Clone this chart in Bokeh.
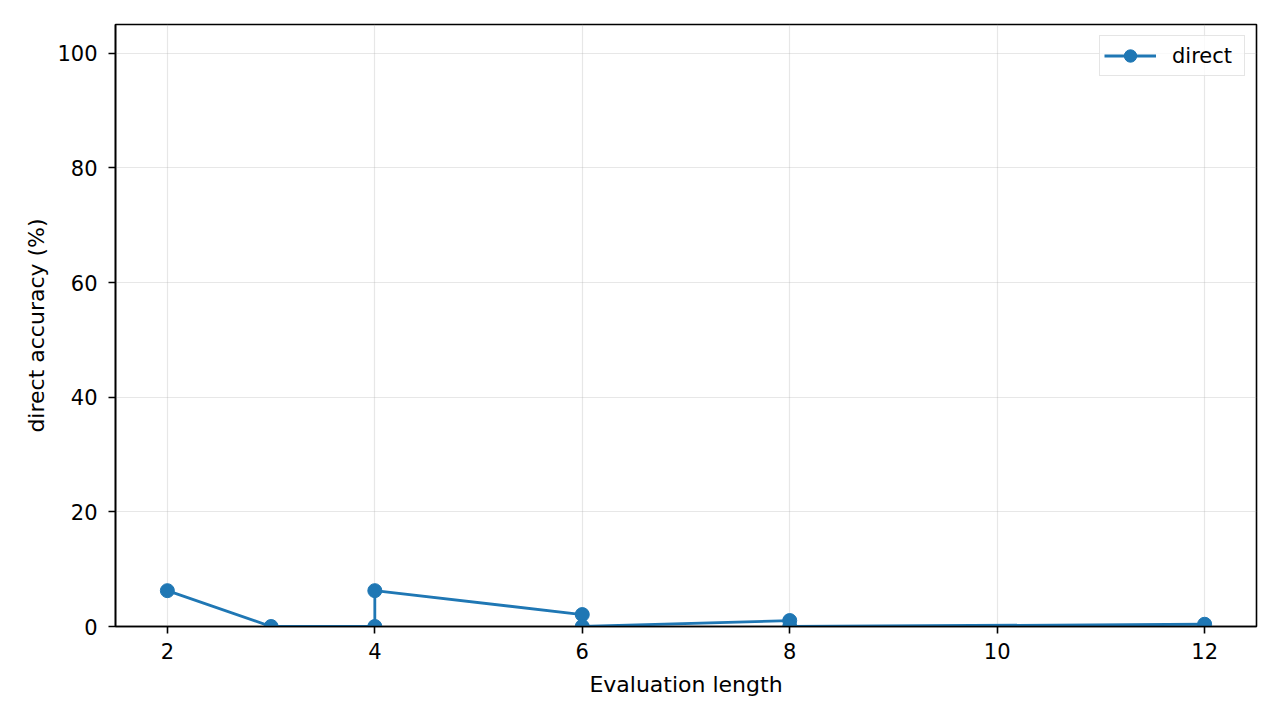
from bokeh.plotting import figure
from bokeh.models import FixedTicker, Range1d, Legend, LegendItem
from bokeh.embed import file_html
from bokeh.resources import INLINE

# Data
eval_length = [2, 3, 4, 4, 6, 6, 8, 8, 12]
direct_acc = [6.25, 0.0, 0.0, 6.25, 2.08, 0.0, 1.04, 0.0, 0.39]
x_ticks = [2, 4, 6, 8, 10, 12]
y_ticks = [0, 20, 40, 60, 80, 100]
series_name = "direct"
x_label = "Evaluation length"
y_label = "direct accuracy (%)"

FONT = "DejaVu Sans"
TICK_FS = "21px"
LABEL_FS = "22px"
BLUE = "#1f77b4"

p = figure(
    frame_width=1141, frame_height=602,
    min_border_left=115, min_border_right=8, min_border_top=24, min_border_bottom=78,
    x_range=Range1d(1.5, 12.5), y_range=Range1d(0, 105),
    output_backend="svg", toolbar_location=None,
    background_fill_color="white", border_fill_color="white",
)

p.outline_line_color = "black"
p.outline_line_width = 1.6

for ax in (p.xaxis[0], p.yaxis[0]):
    ax.axis_line_color = "black"
    ax.axis_line_width = 1.6
    ax.major_tick_line_color = "black"
    ax.major_tick_line_width = 1.6
    ax.major_tick_out = 7
    ax.major_tick_in = 0
    ax.minor_tick_line_color = None
    ax.major_label_text_font = FONT
    ax.major_label_text_font_size = TICK_FS
    ax.major_label_text_color = "black"
    ax.axis_label_text_font = FONT
    ax.axis_label_text_font_size = LABEL_FS
    ax.axis_label_text_font_style = "normal"
    ax.axis_label_text_color = "black"

p.xaxis.ticker = FixedTicker(ticks=x_ticks)
p.yaxis.ticker = FixedTicker(ticks=y_ticks)
p.xaxis.axis_label = x_label
p.yaxis.axis_label = y_label
p.xaxis.major_label_standoff = 9
p.yaxis.major_label_standoff = 11
p.xaxis.axis_label_standoff = 10
p.yaxis.axis_label_standoff = 5

p.grid.grid_line_color = "#b0b0b0"
p.grid.grid_line_alpha = 0.3
p.grid.grid_line_width = 1.2

ln = p.line(eval_length, direct_acc, line_color=BLUE, line_width=2.8)
sc = p.scatter(eval_length, direct_acc, size=14, fill_color=BLUE, line_color=BLUE)

legend = Legend(
    items=[LegendItem(label=series_name, renderers=[ln, sc])],
    location="top_right",
    margin=11, padding=4, spacing=0,
    glyph_width=52, glyph_height=31, label_height=31, label_width=68,
    label_standoff=16,
    label_text_font=FONT, label_text_font_size=TICK_FS, label_text_color="black",
    border_line_color="#cccccc", border_line_width=1.5,
    background_fill_color="white", background_fill_alpha=0.8,
)
p.add_layout(legend, "center")

open("out.html", "w").write(file_html(p, INLINE))
